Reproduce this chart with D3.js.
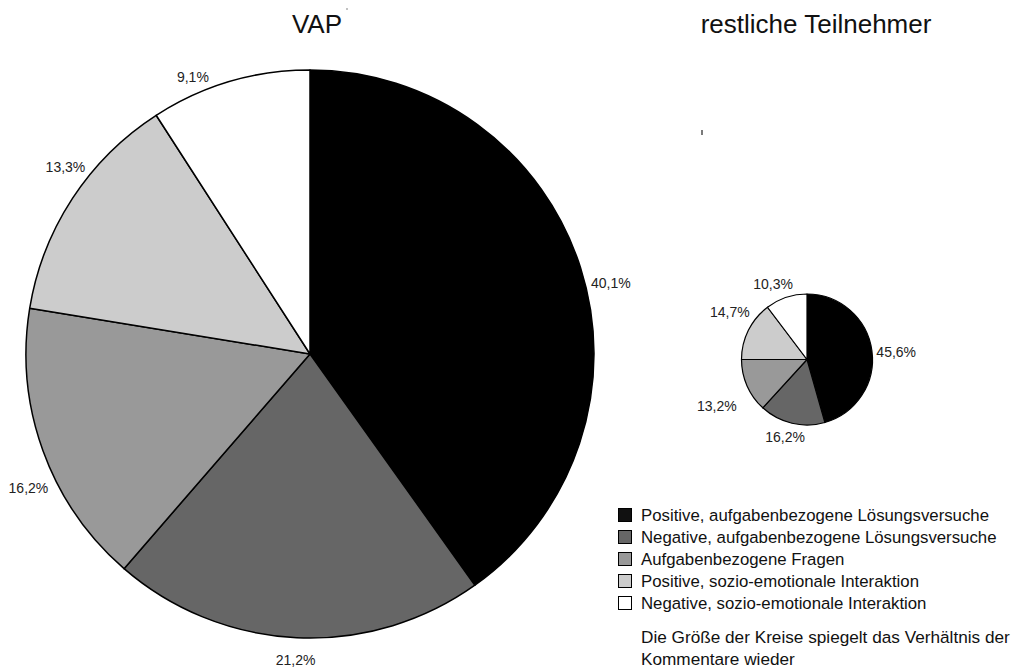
<!DOCTYPE html>
<html>
<head>
<meta charset="utf-8">
<script src="https://cdn.jsdelivr.net/npm/d3@7"></script>
<style>
  body { margin: 0; background: #fff; }
  svg { display: block; font-family: "Liberation Sans", Arial, sans-serif; }
</style>
</head>
<body>
<div id="chart"></div>
<script>
// categories (legend order = slice order, clockwise from 12 o'clock)
const categories = [
  "Positive, aufgabenbezogene Lösungsversuche",
  "Negative, aufgabenbezogene Lösungsversuche",
  "Aufgabenbezogene Fragen",
  "Positive, sozio-emotionale Interaktion",
  "Negative, sozio-emotionale Interaktion"
];
const colors = ["#000000", "#666666", "#999999", "#cccccc", "#ffffff"];

// percentages per group
const vapValues = [40.1, 21.2, 16.2, 13.3, 9.1];
const restValues = [45.6, 16.2, 13.2, 14.7, 10.3];

const titles = ["VAP", "restliche Teilnehmer"];
const note = ["Die Größe der Kreise spiegelt das Verhältnis der", "Kommentare wieder"];

const width = 1014, height = 668;
const fmt = v => d3.format(".1f")(v).replace(".", ",") + "%";

const svg = d3.select("#chart").append("svg")
    .attr("width", width)
    .attr("height", height)
    .attr("viewBox", [0, 0, width, height]);

// pie layouts: center, radius, label tweaks (angle shift in deg, pad beyond rim)
const pies = [
  { values: vapValues, cx: 310, cy: 354, r: 284, stroke: 1.5,
    shift: [4.5, 0, -5.6, 4.2, -6.5], pad: [25, 22, 28, 24, 17],
    title: titles[0], titleX: 317 },
  { values: restValues, cx: 807, cy: 359.5, r: 65.5, stroke: 1.2,
    shift: [3.1, 2.5, -3.5, 5, -5.7], pad: [24, 15, 36, 25, 17],
    title: titles[1], titleX: 816 }
];

const pie = d3.pie().sort(null).value(d => d);

pies.forEach(p => {
  const arcs = pie(p.values);
  const arc = d3.arc().innerRadius(0).outerRadius(p.r);
  const g = svg.append("g").attr("transform", `translate(${p.cx},${p.cy})`);

  g.selectAll("path")
    .data(arcs)
    .join("path")
    .attr("d", arc)
    .attr("fill", (d, i) => colors[i])
    .attr("stroke", "#000")
    .attr("stroke-width", p.stroke)
    .attr("stroke-linejoin", "round");

  g.selectAll("text")
    .data(arcs)
    .join("text")
    .attr("transform", (d, i) => {
      const a = (d.startAngle + d.endAngle) / 2 + p.shift[i] * Math.PI / 180;
      const rr = p.r + p.pad[i];
      return `translate(${rr * Math.sin(a)},${-rr * Math.cos(a)})`;
    })
    .attr("text-anchor", "middle")
    .attr("dominant-baseline", "central")
    .attr("font-size", 14)
    .attr("fill", "#222")
    .text(d => fmt(d.data));

  svg.append("text")
    .attr("x", p.titleX)
    .attr("y", 33)
    .attr("text-anchor", "middle")
    .attr("font-size", 26)
    .attr("fill", "#111")
    .text(p.title);
});

// small stray marks in the original scan
svg.append("circle").attr("cx", 347).attr("cy", 9).attr("r", 0.7).attr("fill", "#555");
svg.append("line").attr("x1", 702).attr("x2", 702).attr("y1", 130).attr("y2", 135)
    .attr("stroke", "#222").attr("stroke-width", 1.2);

// legend
const legend = svg.append("g").attr("transform", "translate(618,515)");
const rowH = 22;
const item = legend.selectAll("g")
    .data(categories)
    .join("g")
    .attr("transform", (d, i) => `translate(0,${i * rowH})`);
item.append("rect")
    .attr("x", 0.5).attr("y", -6.5)
    .attr("width", 13).attr("height", 13)
    .attr("fill", (d, i) => i === 0 ? "#111" : colors[i])
    .attr("stroke", "#000")
    .attr("stroke-width", 1);
item.append("text")
    .attr("x", 23)
    .attr("y", 0)
    .attr("dominant-baseline", "central")
    .attr("font-size", 16.8)
    .attr("fill", "#111")
    .text(d => d);

svg.append("g")
    .selectAll("text")
    .data(note)
    .join("text")
    .attr("x", 641)
    .attr("y", (d, i) => 637 + i * 22)
    .attr("dominant-baseline", "central")
    .attr("font-size", 17.2)
    .attr("fill", "#111")
    .text(d => d);
</script>
</body>
</html>
